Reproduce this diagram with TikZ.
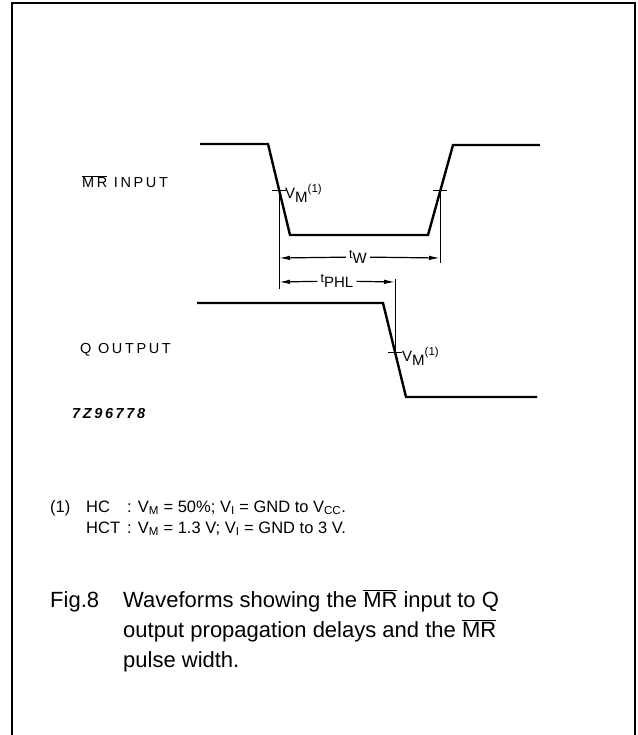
\documentclass[tikz,border=0pt]{standalone}
\usepackage{fontspec}
\setmainfont{Liberation Sans}
\newfontfamily\wavefont[LetterSpace=18]{Liberation Sans}
\usetikzlibrary{arrows.meta}

\tikzstyle{wave} = [line width=2.4pt, line join=miter]
\tikzstyle{dimline} = [line width=0.9pt]
\tikzstyle{arrow} = [line width=1.2pt, -{Latex[length=11pt,width=4.5pt]}]
\tikzstyle{sig} = [anchor=west, inner sep=0pt, font=\wavefont\fontsize{14.5}{16}\selectfont]
\tikzstyle{vmlab} = [anchor=west, inner sep=0pt, font=\fontsize{15}{16}\selectfont]
\tikzstyle{dimlab} = [inner sep=3pt, font=\fontsize{15}{16}\selectfont]
\tikzstyle{textblock} = [anchor=base west, inner sep=0pt]

\newcommand{\lo}[1]{\raisebox{-0.45ex}{#1}}
\newcommand{\hi}[1]{\raisebox{0.8ex}{\fontsize{11.5}{12}\selectfont #1}}
\newcommand{\tee}{\raisebox{0.25ex}{\fontsize{12.5}{13}\selectfont t}}
\newcommand{\ovl}[1]{$\overline{\mbox{#1}}$}

\begin{document}
\begin{tikzpicture}[x=1pt, y=-1pt]
\useasboundingbox (0,0) rectangle (637,735);

% frame, open at the bottom
\draw [line width=1.3pt] (12,735) -- (12,3) -- (635,3) -- (635,735);

% MR input
\coordinate (m1) at (200,144);
\coordinate (m2) at (268,144);
\coordinate (m3) at (290,235);
\coordinate (m4) at (428,235);
\coordinate (m5) at (453,145);
\coordinate (m6) at (540,145);
\draw [wave] (m1) -- (m2) -- (m3) -- (m4) -- (m5) -- (m6);

% Q output
\coordinate (q1) at (197,303);
\coordinate (q2) at (383,303);
\coordinate (q3) at (406,397);
\coordinate (q4) at (537,397);
\draw [wave] (q1) -- (q2) -- (q3) -- (q4);

% VM points
\coordinate (vmf) at (279,190);
\coordinate (vmr) at (440,190);
\coordinate (vmq) at (395,352);
\foreach \p in {vmf, vmr, vmq}
  \draw [dimline] (\p) ++(-7,0) -- ++(14,0);

% reference lines
\coordinate (fbot) at (279,289);
\coordinate (rbot) at (440,263);
\coordinate (ptop) at (395,279);
\draw [dimline] (vmf) -- (fbot);
\draw [dimline] (vmr) -- (rbot);
\draw [dimline] (ptop) -- (vmq);

% pulse width and delay
\coordinate (twl) at (279,258);
\coordinate (twr) at (440,258);
\coordinate (tpl) at (279,282);
\coordinate (tpr) at (395,282);
\node (tw) [dimlab] at (358,257) {\tee\lo{W}};
\draw [arrow] (tw) -- (twl);
\draw [arrow] (tw) -- (twr);
\node (tp) [dimlab] at (337,281) {\tee\lo{PHL}};
\draw [arrow] (tp) -- (tpl);
\draw [arrow] (tp) -- (tpr);

% labels
\node (vm1) [vmlab] at (285,193) {V\lo{M}\hi{(1)}};
\node (vm2) [vmlab] at (402,356) {V\lo{M}\hi{(1)}};
\node (mr) [sig] at (82,182) {\ovl{MR} INPUT};
\node (q) [sig] at (80,350) {Q OUTPUT};
\node (code) [sig, font=\wavefont\bfseries\itshape\fontsize{14.5}{16}\selectfont] at (72,414) {7Z96778};

% note and caption
\node (note) [textblock, font=\fontsize{16.5}{21}\selectfont] at (50,512)
  {\begin{tabular}[t]{@{}p{36pt}@{}p{41pt}@{}l@{}}
   (1) & HC & : V\textsubscript{M} = 50\%; V\textsubscript{I} = GND to V\textsubscript{CC}.\\
       & HCT & : V\textsubscript{M} = 1.3 V; V\textsubscript{I} = GND to 3 V.
   \end{tabular}};
\node (fig) [textblock, font=\fontsize{22}{30}\selectfont] at (50,607) {Fig.8};
\node (cap) [textblock, font=\fontsize{22}{30}\selectfont] at (123,607)
  {\begin{tabular}[t]{@{}l@{}}
   Waveforms showing the \ovl{MR} input to Q\\
   output propagation delays and the \ovl{MR}\\
   pulse width.
   \end{tabular}};

\end{tikzpicture}
\end{document}
